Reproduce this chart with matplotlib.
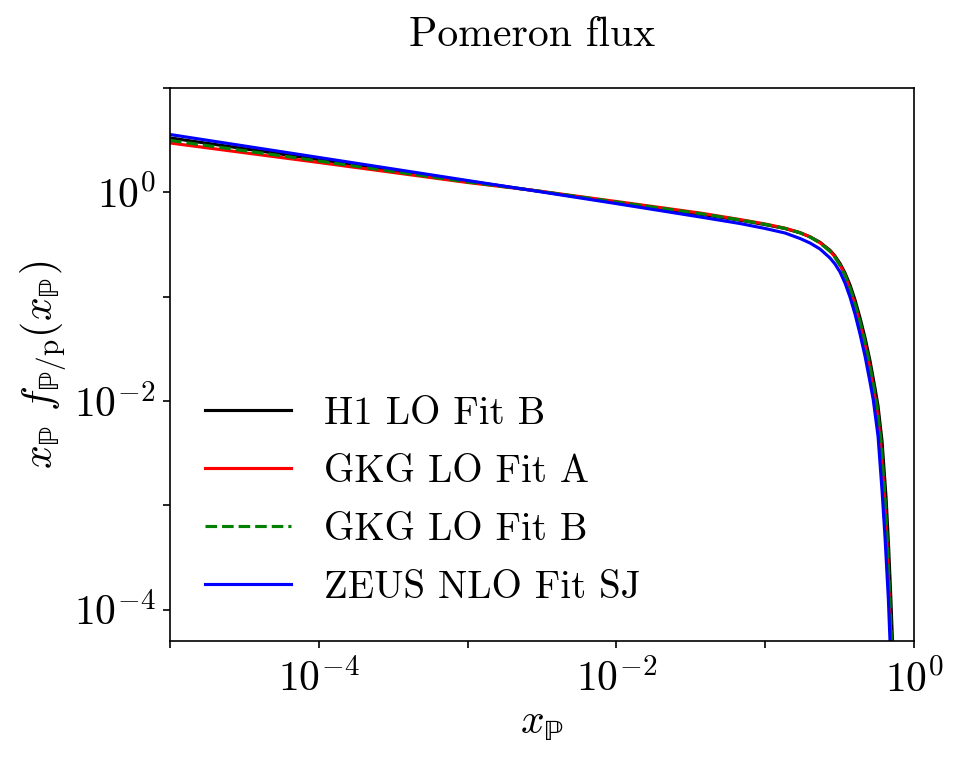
import math
import matplotlib
matplotlib.use("Agg")
import matplotlib.pyplot as plt
from matplotlib.ticker import LogLocator, FuncFormatter, NullLocator

plt.rcParams['font.family'] = 'serif'
plt.rcParams['font.serif'] = ['cmr10', 'DejaVu Serif']
plt.rcParams['mathtext.fontset'] = 'cm'
plt.rcParams['axes.unicode_minus'] = False
plt.rcParams['axes.formatter.use_mathtext'] = True

# ---- data (x_P, x_P f(x_P)) ----
labels = ["H1 LO Fit B", "GKG LO Fit A", "GKG LO Fit B", "ZEUS NLO Fit SJ"]
colors = ["black", "red", "green", "blue"]
styles = ["-", "-", "--", "-"]

x_h1 = [1e-5, 1e-4, 1e-3, 3e-3, 1e-2, 0.0365, 0.0677, 0.1, 0.1358, 0.1714, 0.2000, 0.2335,
        0.2726, 0.2944, 0.3182, 0.3438, 0.3714, 0.4013, 0.4336, 0.4685, 0.5061, 0.5469,
        0.5729, 0.6094, 0.6482, 0.6738, 0.6971, 0.7148, 0.7338]
y_h1 = [3.32, 2.06, 1.28, 1.024, 0.798, 0.617, 0.540, 0.490, 0.4497, 0.409, 0.3745, 0.3317,
        0.278, 0.245, 0.2077, 0.1684, 0.1292, 0.0928, 0.0626, 0.0403, 0.02424, 0.0132,
        8.94e-3, 4.125e-3, 1.199e-3, 4.20e-4, 1.377e-4, 5.50e-5, 1.93e-5]

x_gkga = [1e-5, 1e-4, 1e-3, 3e-3, 1e-2, 0.0365, 0.0677, 0.1, 0.1358, 0.1714, 0.2000, 0.2335,
          0.2726, 0.2944, 0.3182, 0.3438, 0.3629, 0.3921, 0.4236, 0.4577, 0.4945, 0.5342,
          0.5598, 0.5955, 0.6335, 0.6585, 0.6812, 0.6983, 0.7168]
y_gkga = [2.97, 1.931, 1.241, 1.029, 0.816, 0.633, 0.548, 0.4967, 0.4527, 0.4109, 0.3737, 0.328,
          0.2737, 0.2397, 0.2009, 0.161, 0.1292, 0.0928, 0.0626, 0.0403, 0.02424, 0.0132,
          8.94e-3, 4.125e-3, 1.199e-3, 4.20e-4, 1.377e-4, 5.50e-5, 1.93e-5]

x_gkgb = [1e-5, 1e-4, 1e-3, 3e-3, 1e-2, 0.0365, 0.0677, 0.1, 0.1358, 0.1714, 0.2000, 0.2335,
          0.2726, 0.2944, 0.3182, 0.3438, 0.3658, 0.3951, 0.4270, 0.4613, 0.4984, 0.5384,
          0.5641, 0.6001, 0.6383, 0.6635, 0.6866, 0.7036, 0.7224]
y_gkgb = [3.14, 1.996, 1.255, 1.027, 0.807, 0.625, 0.5436, 0.4933, 0.4507, 0.409, 0.3728, 0.3265,
          0.2719, 0.2381, 0.1995, 0.160, 0.1292, 0.0928, 0.0626, 0.0403, 0.02424, 0.0132,
          8.94e-3, 4.125e-3, 1.199e-3, 4.20e-4, 1.377e-4, 5.50e-5, 1.93e-5]

x_zeus = [1e-5, 1e-4, 1e-3, 3e-3, 1e-2, 0.0365, 0.0677, 0.1, 0.1358, 0.1714, 0.2000, 0.2335,
          0.2726, 0.2944, 0.3182, 0.3438, 0.3714, 0.4013, 0.4336, 0.4685, 0.5061, 0.5326,
          0.5729, 0.6094, 0.6383, 0.6718, 0.6897, 0.7062]
y_zeus = [3.58, 2.157, 1.297, 1.018, 0.779, 0.580, 0.502, 0.4497, 0.4073, 0.3606, 0.3265, 0.286,
          0.2345, 0.2054, 0.1721, 0.135, 0.0991, 0.0681, 0.0438, 0.02695, 0.01518, 0.0102,
          4.61e-3, 1.398e-3, 4.96e-4, 1.289e-4, 4.99e-5, 1.69e-5]

series_x = [x_h1, x_gkga, x_gkgb, x_zeus]
series_y = [y_h1, y_gkga, y_gkgb, y_zeus]

fig = plt.figure(figsize=(9.59, 7.61), dpi=100)
ax = fig.add_axes([0.1773, 0.1577, 0.9531 - 0.1773, 0.8844 - 0.1577])

for xs, ys, c, ls, lab in zip(series_x, series_y, colors, styles, labels):
    ax.plot(xs, ys, color=c, linestyle=ls, linewidth=2.25, label=lab)

ax.set_xscale('log')
ax.set_yscale('log')
ax.set_xlim(1e-5, 1.0)
ax.set_ylim(5e-5, 10)

ax.xaxis.set_major_locator(LogLocator(base=10, numticks=20))
ax.yaxis.set_major_locator(LogLocator(base=10, numticks=20))
ax.xaxis.set_minor_locator(NullLocator())
ax.yaxis.set_minor_locator(NullLocator())

def fmt(v, pos):
    e = int(round(math.log10(v)))
    if e % 2 != 0:
        return ""
    return r"$10^{%d}$" % e

ax.xaxis.set_major_formatter(FuncFormatter(fmt))
ax.yaxis.set_major_formatter(FuncFormatter(fmt))

for sp in ax.spines.values():
    sp.set_linewidth(1.2)
ax.tick_params(which='major', length=5.25, width=1.2, labelsize=30)
ax.tick_params(axis='x', pad=8)
ax.tick_params(axis='y', pad=5)

P = "\u2119"
ax.set_xlabel(r"$x_{\mathrm{%s}}$" % P, fontsize=30, labelpad=4)
ax.set_ylabel(r"$x_{\mathrm{%s}}\ f_{\mathrm{%s}/\mathrm{p}}(x_{\mathrm{%s}})$" % (P, P, P),
              fontsize=30, labelpad=4)
ax.set_title("Pomeron flux", fontsize=30, pad=30, x=0.486)

ax.legend(loc='lower left', frameon=False, fontsize=28, handlelength=2.2,
          labelspacing=0.57, handletextpad=0.85)

fig.savefig("out.png", dpi=100)
